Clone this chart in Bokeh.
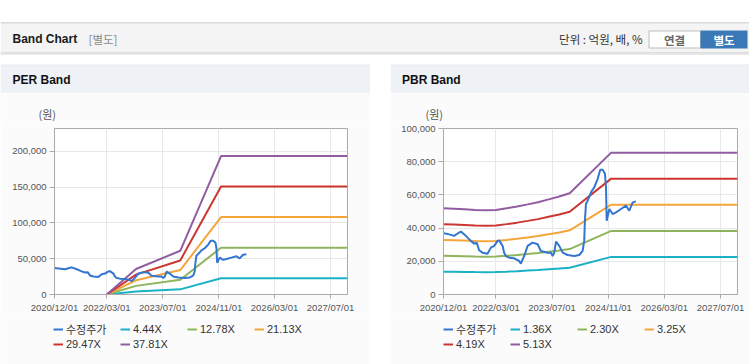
from datetime import datetime
import pandas as pd
from bokeh.plotting import figure
from bokeh.models import (ColumnDataSource, Range1d, FixedTicker, DatetimeTickFormatter,
                          NumeralTickFormatter, Legend, LegendItem, Spacer)
from bokeh.layouts import column, row
from bokeh.core.properties import value
from bokeh.embed import file_html
from bokeh.resources import INLINE

# ---------------- data ----------------
price_dates = ["2020-12-01", "2021-01-05", "2021-03-03", "2021-04-16", "2021-04-30", "2021-06-13",
               "2021-07-26", "2021-08-24", "2021-09-16", "2021-10-06", "2021-11-05", "2021-12-18",
               "2022-01-16", "2022-02-14", "2022-03-15", "2022-03-29", "2022-04-28", "2022-05-11",
               "2022-05-26", "2022-06-24", "2022-08-06", "2022-09-19", "2022-10-03", "2022-11-01",
               "2022-12-01", "2023-01-13", "2023-02-26", "2023-03-26", "2023-05-23", "2023-06-21",
               "2023-07-06", "2023-07-20", "2023-08-04", "2023-09-01", "2023-10-01", "2023-11-13",
               "2024-01-10", "2024-02-22", "2024-03-22", "2024-04-05", "2024-04-11", "2024-04-20",
               "2024-05-05", "2024-06-03", "2024-07-01", "2024-07-31", "2024-08-22", "2024-09-12",
               "2024-10-02", "2024-10-11", "2024-10-17", "2024-11-09", "2024-12-08", "2025-01-06",
               "2025-02-18", "2025-04-03", "2025-05-01", "2025-05-31", "2025-06-28"]
price_values = [36970, 36500, 35330, 37330, 37940, 35330,
                32300, 30660, 31200, 26660, 25200, 24600,
                28240, 29270, 32300, 32600, 29270, 25200,
                23200, 22180, 21800, 20180, 18560, 23200,
                29270, 31270, 30260, 26240, 25200, 25200,
                23200, 25200, 31880, 29270, 25200, 23800,
                23200, 23800, 26240, 32300, 44400, 54540,
                56540, 61570, 64600, 69690, 75140, 75140,
                72720, 64600, 44420, 51510, 48480, 49500,
                51510, 53510, 50480, 55510, 56120]

per_dates = ["2022-03-01", "2022-11-11", "2023-12-01", "2024-11-20", "2027-11-26"]
per_4_44x = [0, 4190, 7170, 22720, 22720]
per_12_78x = [0, 12050, 20650, 65410, 65410]
per_21_13x = [0, 19920, 34150, 108140, 108140]
per_29_47x = [0, 27790, 47620, 150820, 150820]
per_37_81x = [0, 35650, 61100, 193500, 193500]
per_labels = ["4.44X", "12.78X", "21.13X", "29.47X", "37.81X"]
per_y_ticks = [0, 50000, 100000, 150000, 200000]

pbr_dates = ["2020-12-01", "2021-03-01", "2021-06-01", "2021-09-01", "2021-12-01", "2022-03-01",
             "2022-06-01", "2022-09-01", "2022-12-01", "2023-03-01", "2023-06-01", "2023-09-01",
             "2023-12-01", "2024-11-25", "2027-11-26"]
pbr_1_36x = [13760, 13710, 13600, 13490, 13440, 13490, 13760, 14050, 14400, 14740, 15190, 15640, 16170, 22650, 22650]
pbr_2_30x = [23270, 23180, 23000, 22820, 22730, 22820, 23270, 23760, 24350, 24930, 25690, 26450, 27350, 38310, 38310]
pbr_3_25x = [32880, 32750, 32500, 32250, 32120, 32250, 32880, 33580, 34400, 35220, 36300, 37380, 38650, 54140, 54140]
pbr_4_19x = [42390, 42230, 41900, 41570, 41410, 41570, 42390, 43290, 44350, 45410, 46800, 48190, 49820, 69790, 69790]
pbr_5_13x = [51900, 51700, 51300, 50900, 50700, 50900, 51900, 53000, 54300, 55600, 57300, 59000, 61000, 85450, 85450]
pbr_labels = ["1.36X", "2.30X", "3.25X", "4.19X", "5.13X"]
pbr_y_ticks = [0, 20000, 40000, 60000, 80000, 100000]

x_tick_dates = ["2020-12-01", "2022-03-01", "2023-07-01", "2024-11-01", "2026-03-01", "2027-07-01"]
x_start, x_end = "2020-12-01", "2027-11-26"

# ---------------- styles ----------------
PRICE_COLOR = "#3276d1"
BAND_COLORS = ["#1bb1c6", "#8eb45c", "#f4a63b", "#cc3631", "#915ca1"]
PANEL_BG = "#fbfbfb"
LATIN = "Liberation Sans"
KR = "Noto Sans CJK KR"

price_src = ColumnDataSource(dict(date=pd.to_datetime(price_dates), price=price_values))


def blank(width, height, x0, x1, y0, y1, bg="white"):
    p = figure(width=width, height=height, output_backend="svg", toolbar_location=None,
               x_range=Range1d(x0, x1), y_range=Range1d(y1, y0),
               x_axis_type=None, y_axis_type=None, min_border=0, frame_align=False)
    p.outline_line_color = None
    p.grid.visible = False
    p.background_fill_color = bg
    p.border_fill_color = bg
    return p


def box(p, l, r, t, b, fill, line=None):
    p.quad(left=[l], right=[r], top=[t], bottom=[b], fill_color=fill, line_color=line)


def txt(p, x, y, s, font, size, color, bold=False, align="left", baseline="middle"):
    p.text(x=[x], y=[y], text=[s], text_font=value(font), text_font_size=size,
           text_color=color, text_font_style="bold" if bold else "normal",
           text_baseline=baseline, text_align=align)


def add_series(p, band_src):
    rs = []
    for i, col in enumerate(BAND_COLORS):
        rs.append(p.line(x="date", y=f"b{i}", source=band_src, line_color=col, line_width=2))
    pr = p.line(x="date", y="price", source=price_src, line_color=PRICE_COLOR, line_width=2)
    return pr, rs


def make_chart(width, mbl, mbr, mbb, band_src, ymax, yticks):
    p = figure(width=width, height=193, x_axis_type="datetime",
               output_backend="svg", toolbar_location=None, frame_align=False,
               x_range=Range1d(pd.Timestamp(x_start), pd.Timestamp(x_end)),
               y_range=Range1d(0, ymax),
               min_border_left=mbl, min_border_right=mbr,
               min_border_top=6, min_border_bottom=mbb)
    p.border_fill_color = PANEL_BG
    p.background_fill_color = "white"
    p.outline_line_color = "#aaaaaa"
    add_series(p, band_src)

    xt = FixedTicker(ticks=[int(pd.Timestamp(d).value // 10**6) for d in x_tick_dates])
    yt = FixedTicker(ticks=yticks)
    p.xaxis.ticker = xt
    p.yaxis.ticker = yt
    p.xgrid.ticker = xt
    p.ygrid.ticker = yt
    p.xaxis.formatter = DatetimeTickFormatter(days="%Y/%m/%d", months="%Y/%m/%d",
                                              years="%Y/%m/%d")
    p.yaxis.formatter = NumeralTickFormatter(format="0,0")
    for ax in (p.xaxis, p.yaxis):
        ax.axis_line_color = "#aaaaaa"
        ax.major_tick_line_color = "#aaaaaa"
        ax.major_tick_in = 0
        ax.minor_tick_line_color = None
        ax.major_label_text_font = LATIN
        ax.major_label_text_font_size = "9.5px"
        ax.major_label_text_color = "#555555"
    p.xaxis.major_tick_out = 4
    p.yaxis.major_tick_out = 5
    p.xaxis.major_label_standoff = 3
    p.yaxis.major_label_standoff = 3
    p.grid.grid_line_color = "#e8e8e8"
    return p


def make_legend(width, band_src, labels):
    # legend strip below the chart; the series are drawn outside its (0..1) ranges
    p = blank(width, 49, 0, 1, 0, 1, bg=PANEL_BG)
    pr, rs = add_series(p, band_src)
    items = [LegendItem(label="수정주가", renderers=[pr])]
    items += [LegendItem(label=lab, renderers=[r]) for lab, r in zip(labels, rs)]
    legend = Legend(items=items, location=(53, 14), orientation="horizontal", ncols=4,
                    glyph_width=10, glyph_height=12, label_height=13, label_width=54,
                    label_standoff=3, spacing=-2, padding=0, margin=0,
                    label_text_font=LATIN + ", " + KR, label_text_font_size="11px",
                    label_text_color="#333333", border_line_color=None,
                    background_fill_alpha=0)
    p.add_layout(legend)
    return p


# ---------------- header (page y 0..64) ----------------
head = blank(749, 64, 0, 749, 0, 64)
box(head, 0, 749, 22, 23, "#b4b4b4")
box(head, 0, 749, 23, 52, "#f4f4f4")
box(head, 0, 749, 52, 53, "#c4c4c4")
box(head, 0, 749, 53, 54.5, "#e8e8e8")
txt(head, 12, 38, "Band Chart", LATIN, "12px", "#1a1a1a", bold=True)
txt(head, 88, 38, "[별도]", KR, "11.5px", "#8a8a8a")
txt(head, 642, 38.5, "단위 : 억원, 배, %", KR, "11.5px", "#333333", align="right")
box(head, 648.5, 700, 30.5, 47.5, "white", "#bdbdbd")
txt(head, 674, 39, "연결", KR, "11.5px", "#666666", bold=True, align="center")
box(head, 700, 747, 30, 48, "#3a78b7")
txt(head, 723.5, 39, "별도", KR, "11.5px", "white", bold=True, align="center")

# ---------------- PER panel (x 0..370) ----------------
per_src = ColumnDataSource(dict(date=pd.to_datetime(per_dates), b0=per_4_44x, b1=per_12_78x,
                                b2=per_21_13x, b3=per_29_47x, b4=per_37_81x))
per_title = blank(370, 29, 0, 370, 64, 93)
box(per_title, 0, 370, 64, 65, "#d6d6d6")
box(per_title, 0, 370, 65, 93, "#eef2f7")
txt(per_title, 12, 79.5, "PER Band", LATIN, "12px", "#111111", bold=True)
per_unit = blank(370, 29, 0, 370, 93, 122, bg=PANEL_BG)
txt(per_unit, 38, 121.8, "(원)", KR, "11px", "#555555", baseline="bottom")
per = make_chart(370, 54, 23, 20, per_src, 232000, per_y_ticks)
per_leg = make_legend(370, per_src, per_labels)

# ---------------- PBR panel (x 390..749) ----------------
pbr_src = ColumnDataSource(dict(date=pd.to_datetime(pbr_dates), b0=pbr_1_36x, b1=pbr_2_30x,
                                b2=pbr_3_25x, b3=pbr_4_19x, b4=pbr_5_13x))
pbr_title = blank(359, 29, 390, 749, 64, 93)
box(pbr_title, 390, 749, 64, 65, "#d6d6d6")
box(pbr_title, 390, 749, 65, 93, "#eef2f7")
txt(pbr_title, 401.5, 79.5, "PBR Band", LATIN, "12px", "#111111", bold=True)
pbr_unit = blank(359, 29, 390, 749, 93, 122, bg=PANEL_BG)
txt(pbr_unit, 425, 121.5, "(원)", KR, "11px", "#555555", baseline="bottom")
pbr = make_chart(359, 53, 12, 21, pbr_src, 100000, pbr_y_ticks)
pbr_leg = make_legend(359, pbr_src, pbr_labels)

layout = column(head,
                row(column(per_title, per_unit, per, per_leg),
                    Spacer(width=20, height=300),
                    column(pbr_title, pbr_unit, pbr, pbr_leg)))

open("out.html", "w").write(file_html(layout, INLINE))
